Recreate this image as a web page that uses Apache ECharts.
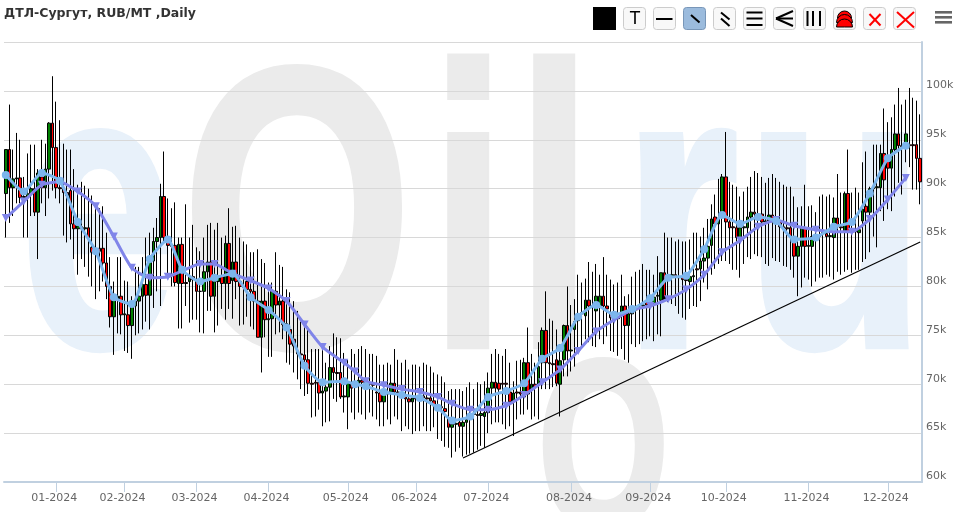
<!DOCTYPE html>
<html>
<head>
<meta charset="utf-8">
<style>html,body{margin:0;padding:0;background:#fff}#c{width:959px;height:512px}</style>
<script src="https://cdn.jsdelivr.net/npm/echarts@6/dist/echarts.min.js"></script>
</head>
<body>
<div id="c"></div>
<script>
const titleText = 'ДТЛ-Сургут, RUB/MT ,Daily';
const monthLabels = ['01-2024','02-2024','03-2024','04-2024','05-2024','06-2024','07-2024','08-2024','09-2024','10-2024','11-2024','12-2024'];
const monthStarts = [14,33,53,73,95,114,134,157,179,200,223,245];
const opens = [
89.5,94,90.1,91,91.1,89.1,89.1,89.5,90,87.6,
91.2,90.1,92,96.7,94.2,90.1,90,89.6,89.8,86.4,
85.9,86.1,85.9,86,84,83.5,83.9,83.9,82.4,80,
76.9,78.7,79,77.1,77.1,76,78,78.5,79,80.2,
79.1,82.6,84.6,85,89.2,85,84.2,84.2,80.3,84.3,
80.4,80.5,81,80.7,79.5,79.5,81.5,82.5,79,80.5,
81,80.3,84.4,80.6,82.5,80.5,80,80.5,79.7,79.5,
78.5,74.8,78.5,76.6,76.7,79.5,78.1,78.5,76.1,75.6,
74.6,73.4,73.1,73,72.5,70.1,70.2,70.2,69.1,69.3,
69.7,71.7,71.2,71.2,68.7,68.7,70,69.7,70.1,70.4,
70.2,70.1,70,69.2,69.1,68.2,69,69.2,70.1,69.2,
69.1,68.7,68.5,68.2,68.6,68.5,68.8,68.6,68.6,68.3,
67.8,67.7,67.5,66.6,65.6,65.9,66.1,65.7,66.1,66.4,
66.9,66.9,66.8,66.7,67.1,69.6,70.2,70.1,70.1,70.1,
69.2,68.2,69.2,69.2,68.7,72.2,69.5,70,70,72.2,
75.5,72.2,72.1,72.5,70,72.5,76,73.4,75.6,76.5,
77.2,77,78.6,78,77.5,78,79,78,77.3,76.8,
76.7,77,78,76,77.2,77.6,77.8,78,78.4,78.2,
78.2,79,78.6,81.4,81,81,81.2,81,80.9,80.7,
80.5,81,81.8,81.8,82.6,82.9,84.2,87.1,86.4,87.4,
91.2,86.6,86.1,86,85,86,86,87.1,87.6,87.4,
87.4,86.6,86.7,87.3,86.6,86.6,86.1,86,86,85,
83.1,84.1,86,84.1,84.1,85.2,85.1,85.5,85.4,85.1,
85,87,86.1,85.6,89.5,85.6,85.7,85.5,86.7,88.2,
87.6,90,90.1,90.1,93.6,93.3,92.1,94,95.6,94.4,
94.5,94.5,94.5,94.5,93.1];
const closes = [
94,90.1,91,91.1,89.1,89.2,89.5,90,87.6,91.6,
90.1,92,96.7,94.2,90.1,90,89.6,89.3,86.4,85.9,
86.2,85.9,86,85,83.5,83.8,83.6,82.4,80,76.9,
78.6,79,77.1,77.2,76,78,78.5,79,80.2,79.1,
82.6,84.6,85,89.2,85,84.2,84.1,80.4,84.3,80.3,
80.3,81,80.7,79.5,79.5,81.5,82.5,79,80.5,81,
80.3,84.4,80.3,82.5,80.5,80,79.9,79.7,79.5,78.5,
74.8,78.5,76.6,76.7,79.5,78.1,78.5,76.1,76.2,74.1,
73.9,73.1,73,72.5,70.1,70,70.1,69.1,69.3,69.7,
71.7,71.2,71.1,68.7,68.8,70.2,69.6,70,70.4,70.2,
70.1,70,69.9,69.1,68.2,69,69.1,70.1,69.2,69.1,
69,68.5,68.2,68.6,68.5,68.4,68.6,68.5,68.3,67.8,
67.7,67.6,67.2,65.6,65.9,66,65.7,66.1,66.4,66.5,
67,66.8,67,67.1,69.6,70.2,69.6,69.5,70,70,
68.2,69.1,69.1,69,72.2,69,70,69.7,71.8,75.5,
72.2,72.1,72,70.1,72.4,76,73.4,73.5,76.4,77.2,
77.3,78.6,78,77.9,79,79,78,77.7,76.8,76.7,
76.8,78,76,77.2,77.6,77.8,77.9,78.1,78.1,78.3,
78.9,79.1,81.4,78.6,80.9,81.2,81,80.9,80.7,80.6,
81,81.1,81.7,82.6,82.9,84.1,86.9,86.4,87,91.2,
86.6,86,86,85,86,86.1,87.1,87.6,87.4,87.3,
86.6,86.7,87.3,86.6,86.5,86.1,86,85.9,85.1,83.1,
84.1,86,84.1,84.2,85.1,85.1,85.2,85.4,85.1,85.2,
87,86.1,86,89.5,85.6,85.7,85.6,85.8,87.9,87.6,
90,90.1,90.2,93.6,90.9,92.1,94,95.6,94.4,94.3,
95.6,94.4,94.4,93.1,90.7];
const highs = [
94,98.6,94,95.7,95,91.2,93.6,94.5,94.5,92,
95,94.6,96.8,101.5,98.9,97,94.6,94,94,92,
90.4,90.7,90.3,90,89.3,88.5,88,88.2,85.5,83,
80.5,83,83,80.6,80.5,79,82,82,83,85,
85.5,86,87,90.5,93.8,89,88,88.6,85,85,
88.4,85,86.3,84,83.6,85,86.3,86.5,85.8,86.5,
85,85.2,88,86.1,86.2,85,84.6,84.3,83.5,83.5,
83.8,82.8,82.4,80.4,80.4,83.5,82.2,82,79.7,79.4,
78.5,77.5,76.4,76.4,75.9,73.6,73.6,73.6,73.6,72.2,
73.9,75.2,74.8,74.7,73.2,72.5,73.6,73.1,73.6,73.9,
73.6,73.1,73.1,72.9,72,72,72.2,72,73.6,72.5,
72.2,72.5,71.5,72,72,71.8,72.2,72,71.8,71.2,
71,70.8,70.2,69.3,69.5,69.5,69.5,69.3,69.7,70.2,
69.5,70.2,70,70.3,71.2,73.1,73.6,73.1,72.9,73.6,
72.2,70.3,72.4,72.5,72.7,75.8,73.1,72.2,74.3,75.8,
79.5,76.7,76.5,75.6,74.1,76.1,80,78.1,78.7,81.2,
80.4,80.8,82.5,81.5,82.3,81.2,83,81.2,80.7,80.2,
80.4,81.2,79,79.2,81,81.5,81.7,82.3,81.7,81.7,
81.2,83.1,81.4,85.5,85,85,84.6,84.8,84.6,84.6,
84.8,85.5,85.5,85.1,86,86.9,88.4,89.4,91,91.5,
95.8,90.7,90.4,90.2,89.2,89.7,90.2,91.2,91.8,91.6,
91.2,90.6,91.1,91.5,91.1,90.7,90.4,90.2,90.2,89.2,
88.1,88.2,90.4,88.2,88.3,87.6,89.2,89.4,89.2,89.4,
89.1,91.5,89.6,89.7,94,89.6,90.1,89.6,92.7,93.8,
90.2,94.5,94.5,94.5,98.2,96.8,97.3,98.6,100.3,98.6,
99.1,100.3,99.3,99,97.6];
const lows = [
85,86.5,87.2,88.5,88.5,85,85,87.2,87.2,82.8,
88.5,87.2,89,89.8,89,88.5,85.2,84.5,84.8,82.8,
81.2,82.8,82,81,80,78.7,79.5,80.5,78.7,75.8,
73,75.2,75.1,73.4,73.2,72.6,75,75.2,75.6,76.4,
75.6,77.8,79.5,78,84.5,81,80,80,75.7,75.7,
78,76.3,76.6,76.6,75.3,75.2,77.5,77.5,75.3,76,
77.7,76.6,77.7,76.7,78.7,76,76.1,76.9,75.9,75.6,
74.8,71.2,74.8,72.8,72.8,75.1,75.3,74.6,72.2,72,
71.2,70.5,69.5,68.8,69,66.6,66.7,67.4,65.7,66.1,
66.2,68.5,68.2,68.5,67.1,65.4,67.1,66.4,67.1,66.9,
66.4,67.1,66.7,66.4,65.7,65.7,66.4,65.9,66.7,66.4,
65.2,65.7,65.4,64.9,65.2,65.2,65.7,65.2,65.2,65.6,
64.4,64.2,63.6,63.5,62.5,63.1,63.5,62.6,62.8,62.9,
63,63.3,63.7,63.5,65,65.9,66.1,66.1,65.9,65.4,
65.7,64.7,66.4,66.9,66.9,67.4,66.4,66.7,66.4,69.5,
69.5,69.5,69.7,69.8,66.7,70.8,70.8,71.3,71.8,73.3,
73.6,74.6,74.3,73.9,73.8,74.6,74.1,74.9,73.4,73.3,
72.9,73.6,72.5,72.2,74.1,73.8,74.1,74.4,74.6,74.9,
74.4,75.1,74.9,79,78.4,78.2,78,77.2,76.8,76.6,
77.7,78,77.9,78.5,80.4,79.7,81.2,81.8,82.3,82.6,
82.6,82.3,81.7,81.7,80.9,82.3,83,82.8,83.3,83.1,
83,82.3,82.1,82.9,82.6,82.5,82.1,82,81.7,80.9,
79,79.9,80.9,80.7,80,80.5,80.9,80.9,81.2,81,
80.7,81.5,81.2,81.5,81.7,81.4,81.7,81.7,82.5,82.8,
83.5,85.1,84,87.7,86.7,87.9,87.7,89.2,90.6,89.4,
92.7,92.2,89.9,89.9,88.4];
const weeklyIndex = [0,5,10,15,20,25,30,35,40,45,49,54,58,63,68,73,78,83,88,94,97,100,105,110,115,120,124,129,134,139,144,149,154,159,164,169,174,179,184,189,194,199,204,209,214,219,225,230,235,240,245,250];
const fastAverage = [91.4,89.7,91.6,90.8,86.6,83.6,78.9,78.2,82.8,84.8,81.7,80.5,80.9,81.3,78.9,77.6,75.8,71.9,70.2,70.3,70,69.8,69.2,68.9,68.6,67.6,66.3,66.7,68.7,69.3,70.1,72.6,73.7,76.9,78.1,77.1,77.7,78.8,80.9,81.1,83.8,87.3,86.4,87.1,86.7,84.8,85,86.1,86.6,89.5,93.1,94.4];
const slowAverage = [87,88.7,90.4,90.7,89.7,88.2,85.1,81.9,80.9,81,81.6,82.3,82.3,81.3,80.6,79.8,78.5,76.1,73.8,72.2,71.3,70.3,69.9,69.5,69.2,68.7,68,67.4,67.4,67.8,68.9,70.2,71.5,73.4,75.4,76.6,77.6,78,78.7,79.7,81.2,83.5,84.7,86.1,86.8,86.2,85.8,85.6,85.6,86.9,88.9,91.1];
const trendIndex = [127,254];
const trendValues = [62.45,84.54];

const count = opens.length;
const categories = Array.from({length:count},()=> '');
monthStarts.forEach((idx,k)=>{categories[idx]=monthLabels[k];});
const candles = opens.map((o,i)=>[o,closes[i],lows[i],highs[i]]);
function sparse(indexes,values){
  const out = new Array(count).fill(null);
  indexes.forEach((idx,k)=>{out[idx]=values[k];});
  return out;
}
const BLUE='#e8f1fa', GRAY='#ebebeb';
function mark(text,x,y,fill,size,sx){
  return {type:'text',z:-1,x:x,y:y,scaleX:sx,silent:true,
    style:{text:text,fill:fill,stroke:fill,lineWidth:6,fontFamily:'Liberation Sans',fontWeight:'bold',fontSize:size,verticalAlign:'middle',align:'left'}};
}
function btn(x,active){
  return {type:'rect',shape:{x:x+.5,y:7.5,width:22,height:22,r:3},
    style:{fill:active?'#9bbbdd':'#f8f8f8',stroke:active?'#7896b8':'#cccccc',lineWidth:1}};
}
function ln(x1,y1,x2,y2,c,w){
  return {type:'line',shape:{x1,y1,x2,y2},style:{stroke:c||'#000',lineWidth:w||2}};
}
function dome(cy,r){
  return {type:'sector',shape:{cx:844.5,cy:cy,r:r,r0:0,startAngle:Math.PI,endAngle:2*Math.PI},style:{fill:'#ff0000',stroke:'#000',lineWidth:1}};
}
const graphics = [
  mark('e',20,236,BLUE,400,.70),
  mark('O',182,236,GRAY,400,.74),
  mark('i',430,236,GRAY,400,.69),
  mark('l',516,236,GRAY,400,.69),
  mark('r',622,236,BLUE,400,.75),
  mark('u',745,236,BLUE,400,.74),
  mark('O',538,462,GRAY,240,.7),
  {type:'rect',shape:{x:593,y:7,width:23,height:23},style:{fill:'#000'}},
  btn(623),btn(653),btn(683,true),btn(713),btn(743),btn(773),btn(803),btn(833),btn(863),btn(893),
  {type:'text',x:635,y:19,style:{text:'T',fill:'#000',fontFamily:'Liberation Sans',fontSize:18,align:'center',verticalAlign:'middle'}},
  ln(656,19,672.5,19),
  ln(691,15,699.5,22.5),
  ln(721,12.5,729.5,19.5),ln(721,18.5,729.5,26),
  ln(746.5,12.5,762.5,12.5),ln(746.5,18.5,762.5,18.5),ln(746.5,25,762.5,25),
  ln(776,18.5,793,11),ln(776,18.5,793,18.5),ln(776,18.5,793,26),
  ln(807.5,11,807.5,26),ln(813,11,813,26),ln(820,11,820,26),
  dome(18,7),dome(22.5,8),dome(27,8),
  ln(869.5,14,880.5,25.5,'#ff0000'),ln(880.5,14,869.5,25.5,'#ff0000'),
  ln(897,12,914,27.5,'#ff0000'),ln(914,12,897,27.5,'#ff0000'),
  {type:'rect',shape:{x:935,y:11,width:17,height:2.6},style:{fill:'#666'}},
  {type:'rect',shape:{x:935,y:16,width:17,height:2.6},style:{fill:'#666'}},
  {type:'rect',shape:{x:935,y:21,width:17,height:2.6},style:{fill:'#666'}}
];
const chart = echarts.init(document.getElementById('c'),null,{renderer:'canvas'});
chart.setOption({
  animation:false,
  backgroundColor:'#fff',
  title:{text:titleText,left:4,top:7,padding:0,textStyle:{fontFamily:'DejaVu Sans',fontSize:12.5,fontWeight:'bold',color:'#333'}},
  graphic:graphics,
  grid:{left:4,right:37,top:42,bottom:30},
  xAxis:{type:'category',data:categories,boundaryGap:true,
    axisLine:{lineStyle:{color:'#c0d0e0',width:2}},
    axisTick:{show:true,length:10,alignWithLabel:true,interval:(i,v)=>v!=='',lineStyle:{color:'#c0d0e0',width:1}},
    axisLabel:{interval:(i,v)=>v!=='',margin:11,color:'#666',fontFamily:'DejaVu Sans',fontSize:11,padding:[0,4,0,0],hideOverlap:false},
    splitLine:{show:false}},
  yAxis:{type:'value',position:'right',min:60,max:105,interval:5,scale:true,
    axisLine:{show:true,lineStyle:{color:'#c0d0e0',width:2}},
    axisTick:{show:false},
    axisLabel:{margin:4,color:'#666',fontFamily:'DejaVu Sans',fontSize:11,verticalAlign:'bottom',
      formatter:v=>v===105?'':v+'k',showMaxLabel:true},
    splitLine:{lineStyle:{color:'#d8d8d8',width:1}}},
  series:[
    {type:'candlestick',data:candles,barWidth:3,z:3,
      itemStyle:{color:'#008000',color0:'#ff0000',borderColor:'#000',borderColor0:'#000',borderWidth:1}},
    {type:'line',data:sparse(weeklyIndex,slowAverage),connectNulls:true,smooth:0.2,symbol:'triangle',symbolRotate:180,symbolSize:8,showAllSymbol:true,z:4,
      lineStyle:{color:'#8085e9',width:3},itemStyle:{color:'#8085e9'}},
    {type:'line',data:sparse(weeklyIndex,fastAverage),connectNulls:true,smooth:0.2,symbol:'circle',symbolSize:8,showAllSymbol:true,z:5,
      lineStyle:{color:'#7cb5ec',width:3},itemStyle:{color:'#7cb5ec'}},
    {type:'line',data:sparse(trendIndex,trendValues),connectNulls:true,symbol:'none',z:6,
      lineStyle:{color:'#000',width:1.2}}
  ]
});
</script>
</body>
</html>
